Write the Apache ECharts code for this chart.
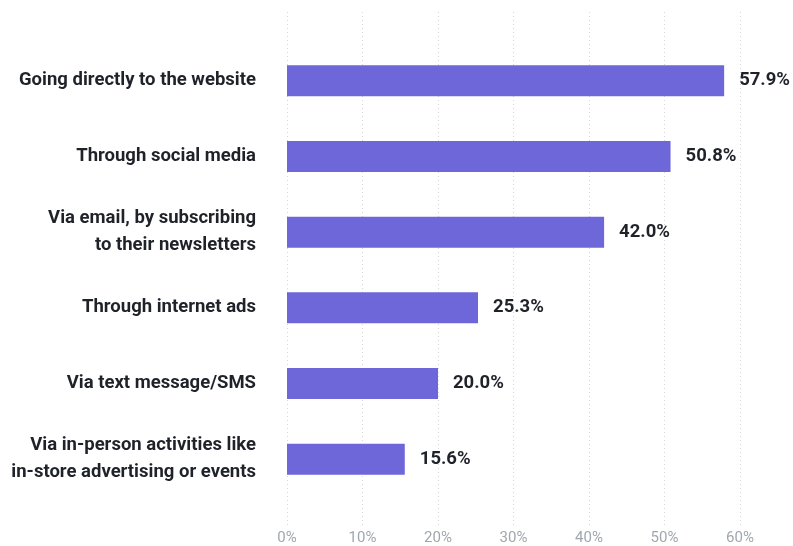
<!DOCTYPE html>
<html><head><meta charset="utf-8">
<script src="https://cdn.jsdelivr.net/npm/echarts@6/dist/echarts.min.js"></script>
<style>html,body{margin:0;padding:0;background:#fff}#c{width:793px;height:546px}</style>
</head><body><div id="c"></div>
<script>
const categories = [
  "Going directly to the website",
  "Through social media",
  "Via email, by subscribing\nto their newsletters",
  "Through internet ads",
  "Via text message/SMS",
  "Via in-person activities like\nin-store advertising or events"
];
const values = [57.9, 50.8, 42.0, 25.3, 20.0, 15.6];
const tickLabels = ["0%","10%","20%","30%","40%","50%","60%"];

const chart = echarts.init(document.getElementById('c'), null, {renderer:'canvas'});
const font = 'Roboto, "Noto Sans", sans-serif';
chart.setOption({
  animation:false,
  grid:[
    {left:287, right:53, top:43, bottom:49},
    {left:287, right:53, top:12, bottom:21}
  ],
  xAxis:[
    {gridIndex:0, type:'value', min:0, max:60, interval:10, show:false, splitLine:{show:false}},
    {gridIndex:1, type:'value', min:0, max:60, interval:10,
     axisLine:{show:false}, axisTick:{show:false},
     splitLine:{show:true, lineStyle:{color:'#d6d6d6', type:[1,3], width:1}},
     axisLabel:{color:'#a0a7ae', fontFamily:font, fontSize:15, margin:6,
       formatter:(v)=>tickLabels[Math.round(v/10)]}}
  ],
  yAxis:[
    {gridIndex:0, type:'category', data:categories, inverse:true,
     axisLine:{show:false}, axisTick:{show:false},
     axisLabel:{color:'#1f2329', fontFamily:font, fontSize:18.5, fontWeight:'bold',
       margin:31, lineHeight:27, align:'right', padding:[2,0,0,0]}},
    {gridIndex:1, type:'value', show:false}
  ],
  series:[{
    type:'bar', xAxisIndex:0, yAxisIndex:0, data:values, barWidth:31,
    itemStyle:{color:'#6e67da'},
    label:{show:true, position:'right', distance:15, color:'#1f2329',
      fontFamily:font, fontSize:18.5, fontWeight:'bold', padding:[2,0,0,0],
      formatter:(p)=>p.value.toFixed(1)+'%'}
  }]
});
</script></body></html>
